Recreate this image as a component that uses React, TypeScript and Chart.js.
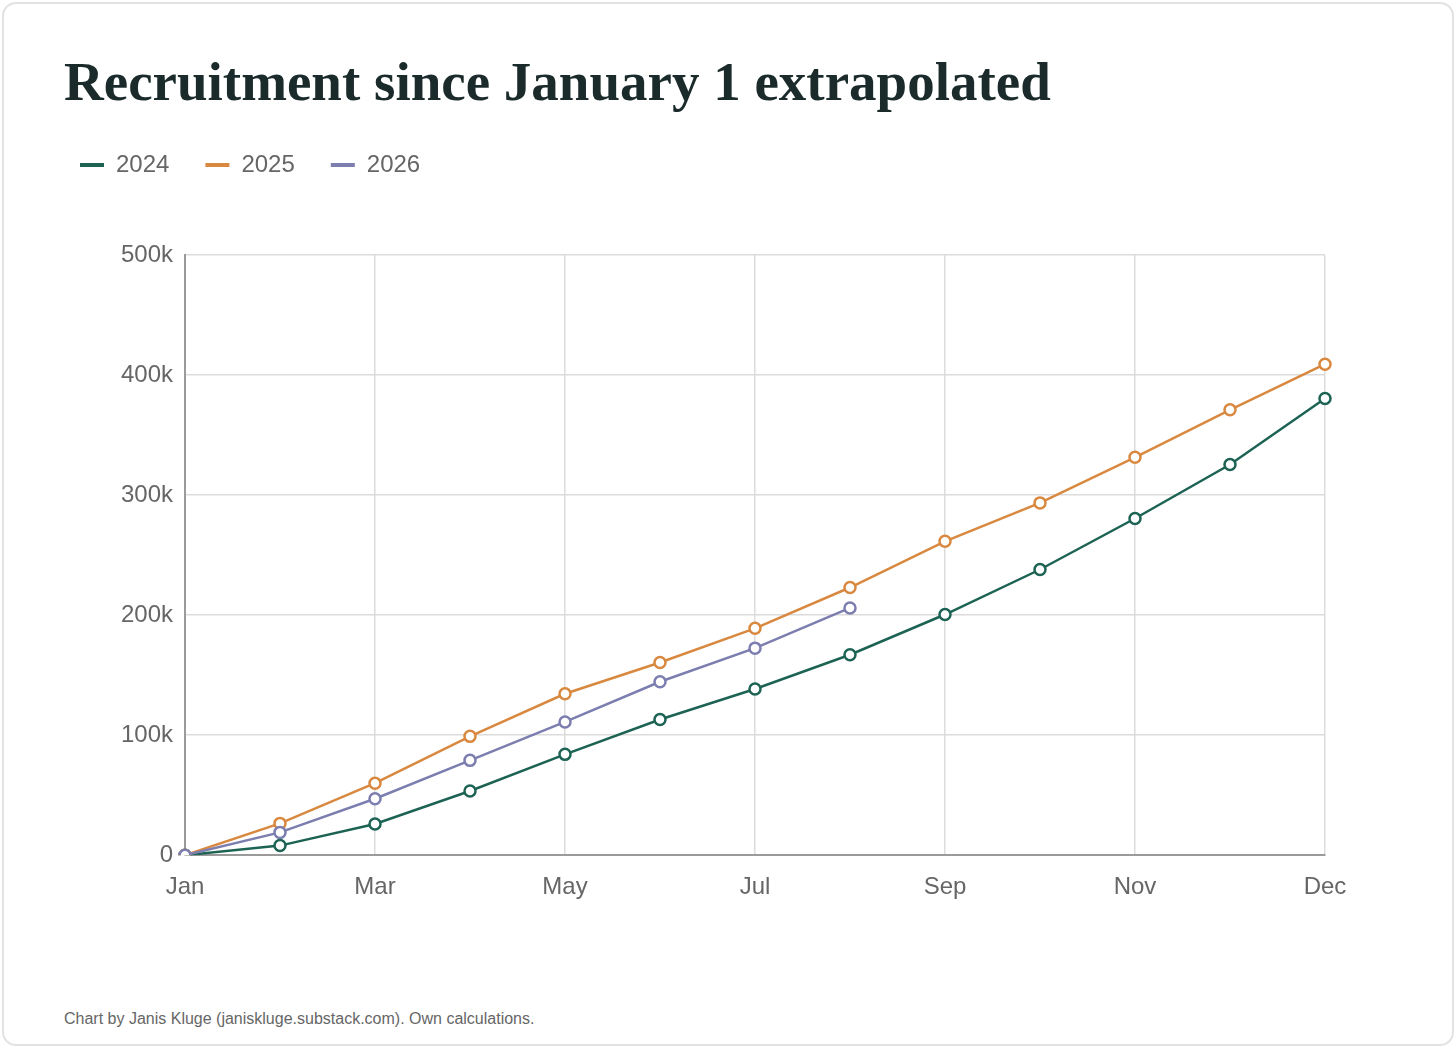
import React, { useEffect, useRef } from 'react';
import { Chart, registerables } from 'chart.js';

Chart.register(...registerables);

// month labels, last point is end of December
const monthLabels = [
    'Jan 1', 'Feb 1', 'Mar 1', 'Apr 1', 'May 1', 'Jun 1', 'Jul 1',
    'Aug 1', 'Sep 1', 'Oct 1', 'Nov 1', 'Dec 1', 'Dec 31'
];

const recruits2024 = [
    0, 8000, 26000, 53500, 84000, 113000, 138500,
    167000, 200500, 238000, 280500, 325500, 380500
];
const recruits2025 = [
    0, 26500, 60000, 99000, 134500, 160500, 189000,
    223000, 261500, 293500, 331500, 371000, 409000
];
const recruits2026 = [0, 19000, 47000, 79000, 111000, 144500, 172500, 206000];

const yTicks = [0, 100000, 200000, 300000, 400000, 500000];

const GREEN = '#1d6354';
const ORANGE = '#d9893f';
const PURPLE = '#7b7eaf';

// pushes the plot area down below the legend
const legendSpacing = {
    id: 'legendSpacing',
    beforeInit(chart: any) {
        const fit = chart.legend.fit;
        chart.legend.fit = function () {
            fit.bind(chart.legend)();
            this.height += 68;
        };
    }
};

const RecruitmentChart = () => {
    const chartRef = useRef<HTMLCanvasElement>(null);
    const chartInstance = useRef<Chart | null>(null);

    useEffect(() => {
        document.body.style.margin = '0';
        if (!chartRef.current) return;
        const ctx = chartRef.current.getContext('2d');
        if (!ctx) return;
        if (chartInstance.current) chartInstance.current.destroy();

        const line = (label: string, data: number[], color: string, order: number) => ({
            label,
            data,
            order,
            borderColor: color,
            backgroundColor: color,
            borderWidth: 2.5,
            pointRadius: 5.5,
            pointBorderWidth: 2.5,
            pointBackgroundColor: '#ffffff',
            pointBorderColor: color,
            tension: 0,
            fill: false
        });

        chartInstance.current = new Chart(ctx, {
            type: 'line',
            data: {
                labels: monthLabels,
                datasets: [
                    line('2024', recruits2024, GREEN, 2),
                    line('2025', recruits2025, ORANGE, 1),
                    line('2026', recruits2026, PURPLE, 0)
                ]
            },
            plugins: [legendSpacing],
            options: {
                responsive: true,
                maintainAspectRatio: false,
                animation: false,
                layout: {
                    padding: { left: 44, right: 131, top: 117, bottom: 40 }
                },
                font: { family: 'Liberation Sans' },
                plugins: {
                    tooltip: { enabled: false },
                    legend: {
                        position: 'top',
                        align: 'start',
                        labels: {
                            boxWidth: 24,
                            boxHeight: 4,
                            padding: 36,
                            color: '#666666',
                            font: { family: 'Liberation Sans', size: 24 },
                            sort: (a: any, b: any) => a.datasetIndex - b.datasetIndex,
                            generateLabels: (chart: any) =>
                                Chart.defaults.plugins.legend.labels
                                    .generateLabels(chart)
                                    .map((item: any) => ({ ...item, fillStyle: item.strokeStyle, lineWidth: 0 }))
                        }
                    }
                },
                scales: {
                    x: {
                        grid: { color: '#dcdcdc', lineWidth: 1.5, drawTicks: false },
                        border: { color: '#9a9a9a', width: 2 },
                        ticks: {
                            autoSkip: true,
                            maxTicksLimit: 7,
                            maxRotation: 0,
                            padding: 18,
                            color: '#666666',
                            font: { family: 'Liberation Sans', size: 24 },
                            callback: function (this: any, value: any) {
                                return String(this.getLabelForValue(value)).split(' ')[0];
                            }
                        }
                    },
                    y: {
                        min: 0,
                        max: 500000,
                        afterFit: (scale: any) => {
                            scale.width = 141;
                        },
                        afterBuildTicks: (scale: any) => {
                            scale.ticks = yTicks.map((v) => ({ value: v }));
                        },
                        grid: { color: '#dcdcdc', lineWidth: 1.5, drawTicks: false },
                        border: { color: '#9a9a9a', width: 2 },
                        ticks: {
                            padding: 12,
                            color: '#666666',
                            font: { family: 'Liberation Sans', size: 24 },
                            callback: (v: any) => (v === 0 ? '0' : v / 1000 + 'k')
                        }
                    }
                }
            }
        });

        return () => {
            if (chartInstance.current) {
                chartInstance.current.destroy();
                chartInstance.current = null;
            }
        };
    }, []);

    return (
        <div style={{ position: 'relative', width: 1456, height: 1048, background: '#ffffff' }}>
            <div
                style={{
                    position: 'absolute',
                    left: 2,
                    top: 2,
                    width: 1452,
                    height: 1044,
                    boxSizing: 'border-box',
                    border: '2px solid #e2e2e2',
                    borderRadius: 14
                }}
            />
            <div
                style={{
                    position: 'absolute',
                    left: 64,
                    top: 54,
                    fontFamily: '"Liberation Serif", serif',
                    fontWeight: 'bold',
                    fontSize: 55,
                    lineHeight: '55px',
                    color: '#1b2a2a',
                    whiteSpace: 'nowrap'
                }}
            >
                Recruitment since January 1 extrapolated
            </div>
            <div style={{ position: 'absolute', left: 0, top: 0, width: 1456, height: 960 }}>
                <canvas ref={chartRef}></canvas>
            </div>
            <div
                style={{
                    position: 'absolute',
                    left: 64,
                    top: 1010,
                    fontFamily: '"Liberation Sans", sans-serif',
                    fontSize: 16,
                    lineHeight: '18px',
                    color: '#666666',
                    whiteSpace: 'nowrap'
                }}
            >
                Chart by Janis Kluge (janiskluge.substack.com). Own calculations.
            </div>
        </div>
    );
};

export default function App() {
    return <RecruitmentChart />;
}
